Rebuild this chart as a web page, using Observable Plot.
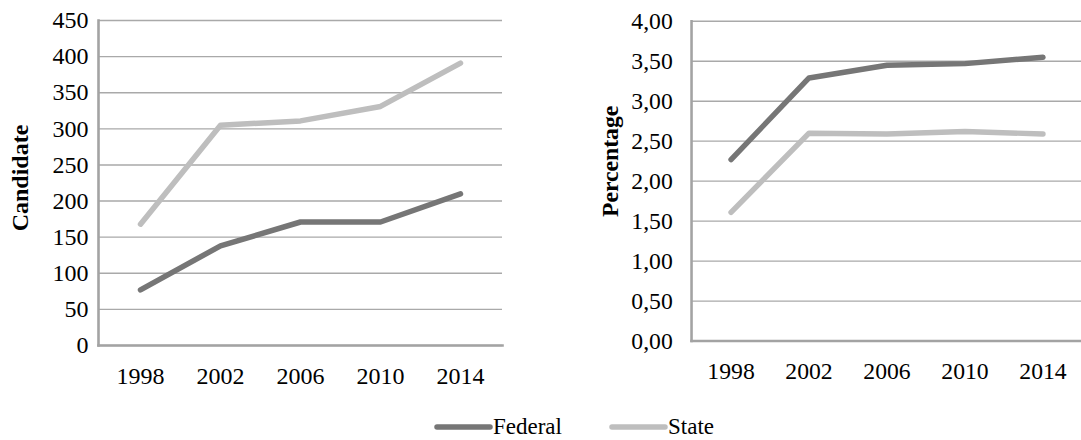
<!DOCTYPE html>
<html>
<head>
<meta charset="utf-8">
<script src="https://cdn.jsdelivr.net/npm/d3@7"></script>
<script src="https://cdn.jsdelivr.net/npm/@observablehq/plot@0.6"></script>
<style>
  html, body { margin: 0; padding: 0; background: #fff; overflow: hidden; }
  #wrap { position: relative; width: 1081px; height: 440px; overflow: hidden; font-family: "Liberation Serif", "DejaVu Serif", serif; }
  #left { position: absolute; left: 0; top: 0; }
  #right { position: absolute; left: 540px; top: 0; }
  #legend { position: absolute; left: 0; top: 400px; }
  svg text { font-family: "Liberation Serif", "DejaVu Serif", serif; }
</style>
</head>
<body>
<div id="wrap">
  <div id="left"></div>
  <div id="right"></div>
  <svg id="legend" width="1081" height="40"></svg>
</div>
<script>
// ---- data ----
const years = ["1998", "2002", "2006", "2010", "2014"];
const seriesNames = ["Federal", "State"];
const seriesColors = ["#767676", "#bebebe"];
const candidateFederal = [77, 138, 171, 171, 210];
const candidateState = [168, 305, 311, 331, 391];
const percentFederal = [2.27, 3.29, 3.45, 3.47, 3.55];
const percentState = [1.61, 2.60, 2.59, 2.62, 2.59];
const candidateTicks = [0, 50, 100, 150, 200, 250, 300, 350, 400, 450];
const percentTicks = [0, 0.5, 1, 1.5, 2, 2.5, 3, 3.5, 4];
const candidateTitle = "Candidate";
const percentTitle = "Percentage";

const commaFmt = d => d3.format(".2f")(d).replace(".", ",");

function panel(o) {
  const rows = years.flatMap((yr, i) => [
    {year: yr, series: seriesNames[0], value: o.fed[i]},
    {year: yr, series: seriesNames[1], value: o.st[i]}
  ]);
  return Plot.plot({
    width: o.width, height: 400,
    marginLeft: o.ml, marginRight: o.mr, marginTop: o.mt, marginBottom: 55,
    style: {fontFamily: '"Liberation Serif", "DejaVu Serif", serif', fontSize: "24px", color: "#000", background: "transparent", overflow: "visible"},
    x: {type: "point", domain: years, padding: 0.5, label: null},
    y: {domain: [0, o.ticks[o.ticks.length - 1]], label: null},
    color: {domain: seriesNames, range: seriesColors},
    marks: [
      Plot.ruleY(o.ticks, {stroke: "#a9a9a9", strokeWidth: 1.4}),
      Plot.frame({anchor: "left", stroke: "#a3a3a3", strokeWidth: 2.6}),
      Plot.frame({anchor: "bottom", stroke: "#a3a3a3", strokeWidth: 2.6}),
      Plot.axisY(o.ticks, {tickSize: 0, tickPadding: o.tp, tickFormat: o.fmt, label: null, fontSize: 24}),
      Plot.axisX({tickSize: 0, tickPadding: 21, label: null, fontSize: 24}),
      Plot.line(rows, {x: "year", y: "value", stroke: "series", z: "series", strokeWidth: 5.5, strokeLinecap: "round", strokeLinejoin: "round"}),
      Plot.text([o.title], {frameAnchor: "left", textAnchor: "middle", lineAnchor: "middle", rotate: -90, dx: o.tdx, dy: o.tdy, fontWeight: "bold", fontSize: 24})
    ]
  });
}

document.getElementById("left").appendChild(panel({
  width: 540, ml: 98, mr: 38, mt: 20,
  fed: candidateFederal, st: candidateState,
  ticks: candidateTicks, fmt: d => String(d), tp: 10,
  title: candidateTitle, tdx: -78, tdy: -5
}));

document.getElementById("right").appendChild(panel({
  width: 548, ml: 153, mr: 0, mt: 21,
  fed: percentFederal, st: percentState,
  ticks: percentTicks, fmt: commaFmt, tp: 19,
  title: percentTitle, tdx: -82, tdy: -20
}));

// ---- legend ----
const legend = d3.select("#legend");
const legendX = [435, 610];
seriesNames.forEach((name, i) => {
  legend.append("line")
    .attr("x1", legendX[i] + 2).attr("x2", legendX[i] + 55)
    .attr("y1", 27).attr("y2", 27)
    .attr("stroke", seriesColors[i]).attr("stroke-width", 5.5).attr("stroke-linecap", "round");
  legend.append("text")
    .attr("x", legendX[i] + 58).attr("y", 34)
    .attr("font-size", 23).attr("fill", "#000")
    .text(name);
});
</script>
</body>
</html>
